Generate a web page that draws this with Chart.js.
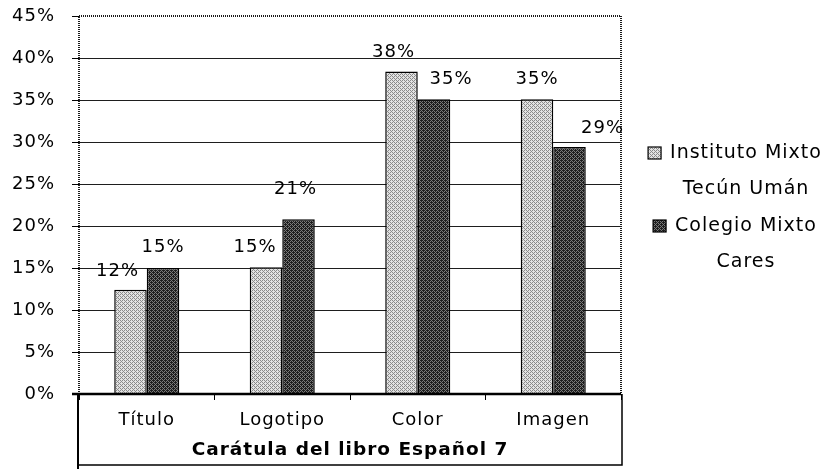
<!DOCTYPE html>
<html>
<head>
<meta charset="utf-8">
<script src="https://cdn.jsdelivr.net/npm/chart.js@4/dist/chart.umd.min.js"></script>
<style>
  html, body { margin: 0; padding: 0; background: #fff; }
  #wrap { width: 829px; height: 469px; }
</style>
</head>
<body>
<div id="wrap"><canvas id="chart" width="829" height="469"></canvas></div>
<script>
// Survey results: book cover aspects rated by each school (percent)
const categories = ['Título', 'Logotipo', 'Color', 'Imagen'];
const seriesNames = [['Instituto Mixto', 'Tecún Umán'], ['Colegio Mixto', 'Cares']];
const institutoMixto = [12.4, 15.1, 38.4, 35.1];
const colegioMixto = [15.0, 20.8, 35.1, 29.4];
const yTicks = [0, 5, 10, 15, 20, 25, 30, 35, 40, 45];
const axisTitle = 'Carátula del libro Español 7';

const FONT = '"DejaVu Sans", Verdana, sans-serif';

// Ordered-dither fills that read like a printed halftone
const BAYER = [[0, 8, 2, 10], [12, 4, 14, 6], [3, 11, 1, 9], [15, 7, 13, 5]];
function stipple(base, dot, level) {
  const c = document.createElement('canvas');
  c.width = 4; c.height = 4;
  const g = c.getContext('2d');
  g.fillStyle = base; g.fillRect(0, 0, 4, 4);
  g.fillStyle = dot;
  BAYER.forEach((row, y) => row.forEach((t, x) => { if (t < level) g.fillRect(x, y, 1, 1); }));
  return g.createPattern(c, 'repeat');
}
const lightFill = stipple('#e2e2e2', '#8a8a8a', 6);
const darkFill = stipple('#7a7a7a', '#1e1e1e', 10);

// Slightly loose letter spacing for all chart text (Verdana-like width)
const wideText = {
  id: 'wideText',
  beforeDraw(chart) { chart.ctx.letterSpacing = '1px'; }
};

// Value labels above each bar, with small hand nudges to avoid overlaps
const valueLabels = {
  id: 'valueLabels',
  afterDatasetsDraw(chart, args, opts) {
    const ctx = chart.ctx;
    ctx.save();
    ctx.font = '18px ' + FONT;
    ctx.fillStyle = '#000';
    ctx.textAlign = 'center';
    ctx.textBaseline = 'middle';
    chart.data.datasets.forEach((ds, di) => {
      chart.getDatasetMeta(di).data.forEach((bar, i) => {
        const dx = opts.dx[di][i], dy = opts.dy[di][i];
        ctx.fillText(Math.round(ds.data[i]) + '%', bar.x + dx, bar.y + dy);
      });
    });
    ctx.restore();
  }
};

// Frame: dotted plot border, heavy baseline, boxed category area below
const frame = {
  id: 'frame',
  afterDraw(chart) {
    const { ctx, chartArea: a } = chart;
    const H = chart.height;
    ctx.save();
    ctx.strokeStyle = '#1a1a1a';
    ctx.lineWidth = 2;
    ctx.setLineDash([1, 1]);
    ctx.beginPath();
    ctx.moveTo(a.left, a.bottom); ctx.lineTo(a.left, a.top);
    ctx.lineTo(a.right, a.top); ctx.lineTo(a.right, a.bottom);
    ctx.stroke();
    ctx.setLineDash([]);
    ctx.strokeStyle = '#000';
    ctx.lineWidth = 2.5;
    ctx.beginPath();
    ctx.moveTo(a.left - 7, a.bottom); ctx.lineTo(a.right, a.bottom);
    ctx.stroke();
    ctx.lineWidth = 2;
    ctx.beginPath();
    ctx.moveTo(a.left - 1, a.bottom); ctx.lineTo(a.left - 1, H);
    ctx.stroke();
    ctx.lineWidth = 1.5;
    ctx.beginPath();
    ctx.moveTo(a.left - 1, H - 4); ctx.lineTo(a.right + 1, H - 4);
    ctx.lineTo(a.right + 1, a.bottom);
    ctx.stroke();
    ctx.restore();
  }
};

// Legend with centred, wrapped series names
const sideLegend = {
  id: 'sideLegend',
  afterDraw(chart) {
    const { ctx, chartArea: a } = chart;
    const cx = a.right + 125;
    let y = a.top + 137;
    ctx.save();
    ctx.font = '19px ' + FONT;
    ctx.fillStyle = '#000';
    ctx.textAlign = 'center';
    ctx.textBaseline = 'middle';
    chart.data.datasets.forEach(ds => {
      const lines = ds.label;
      const w = ctx.measureText(lines[0]).width;
      const bx = cx - w / 2 - 22;
      ctx.fillStyle = ds.backgroundColor;
      ctx.fillRect(bx, y - 6, 13, 12);
      ctx.strokeStyle = '#000';
      ctx.lineWidth = 1.2;
      ctx.strokeRect(bx, y - 6, 13, 12);
      ctx.fillStyle = '#000';
      lines.forEach((t, k) => ctx.fillText(t, cx, y + k * 36));
      y += lines.length * 36 + 1;
    });
    ctx.restore();
  }
};

new Chart(document.getElementById('chart'), {
  type: 'bar',
  data: {
    labels: categories,
    datasets: [
      { label: seriesNames[0], data: institutoMixto, backgroundColor: lightFill,
        borderColor: '#000', borderWidth: 1.5, categoryPercentage: 0.48, barPercentage: 1 },
      { label: seriesNames[1], data: colegioMixto, backgroundColor: darkFill,
        borderColor: '#000', borderWidth: 1.5, categoryPercentage: 0.48, barPercentage: 1 }
    ]
  },
  options: {
    responsive: false,
    animation: false,
    devicePixelRatio: 1,
    layout: { padding: { top: 16, right: 208, left: 0, bottom: 0 } },
    plugins: {
      legend: { display: false },
      tooltip: { enabled: false },
      valueLabels: {
        dx: [[-13, -11, -8, 0], [0, -3, 17, 33]],
        dy: [[-19, -20, -19, -20], [-21, -30, -20, -19]]
      }
    },
    scales: {
      x: {
        grid: { offset: true, drawOnChartArea: false, drawTicks: true, tickLength: 6, color: '#000', lineWidth: 1 },
        border: { display: false },
        ticks: { font: { family: FONT, size: 18 }, color: '#000', padding: 10 },
        title: { display: true, text: axisTitle, color: '#000',
                 font: { family: FONT, size: 18.5, weight: 'bold' }, padding: { top: 0, bottom: 8 } },
        afterFit(s) { s.height = 75; s.paddingLeft = 0; s.paddingRight = 0; }
      },
      y: {
        min: 0, max: 45,
        afterBuildTicks(s) { s.ticks = yTicks.map(v => ({ value: v })); },
        ticks: { font: { family: FONT, size: 18 }, color: '#000', padding: 17,
                 callback: v => v + '%' },
        grid: { color: ctx => (ctx.tick && (ctx.tick.value === 0 || ctx.tick.value === 45)) ? 'rgba(0,0,0,0)' : '#1e1e1e',
                lineWidth: 1, tickLength: 7, tickColor: '#000' },
        border: { display: false },
        afterFit(s) { s.width = 79; s.paddingTop = 0; s.paddingBottom = 0; }
      }
    }
  },
  plugins: [wideText, valueLabels, frame, sideLegend]
});
</script>
</body>
</html>
